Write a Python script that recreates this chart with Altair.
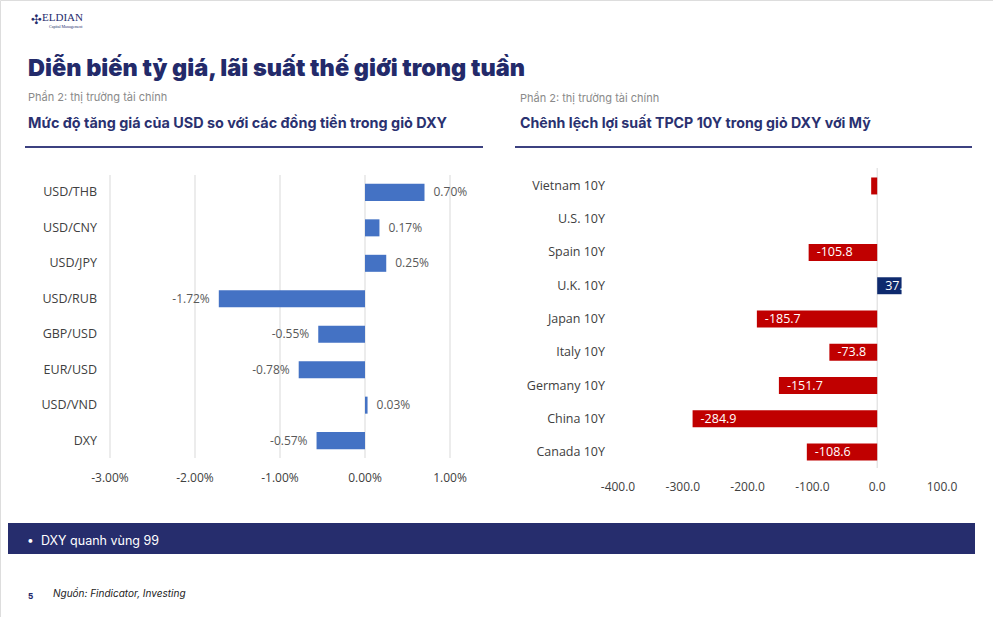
import altair as alt
import pandas as pd

# ---- data ----
fx_pairs = ["USD/THB", "USD/CNY", "USD/JPY", "USD/RUB", "GBP/USD", "EUR/USD", "USD/VND", "DXY"]
fx_change = [0.70, 0.17, 0.25, -1.72, -0.55, -0.78, 0.03, -0.57]
fx_ticks = [-3, -2, -1, 0, 1]
fx_tick_labels = ["-3.00%", "-2.00%", "-1.00%", "0.00%", "1.00%"]

bonds = ["Vietnam 10Y", "U.S. 10Y", "Spain 10Y", "U.K. 10Y", "Japan 10Y",
         "Italy 10Y", "Germany 10Y", "China 10Y", "Canada 10Y"]
bond_spread = [-9.3, 0.0, -105.8, 37.6, -185.7, -73.8, -151.7, -284.9, -108.6]
bond_ticks = [-400, -300, -200, -100, 0, 100]
bond_tick_labels = ["-400.0", "-300.0", "-200.0", "-100.0", "0.0", "100.0"]

fx_df = pd.DataFrame({"pair": fx_pairs, "v": fx_change})
fx_tick_df = pd.DataFrame({"t": fx_ticks, "lab": fx_tick_labels})
bond_df = pd.DataFrame({"bond": bonds, "v": bond_spread})
bond_tick_df = pd.DataFrame({"t": bond_ticks, "lab": bond_tick_labels})

NAVY = "#262D6D"
LABEL_FONT = "Open Sans"
HEAD_FONT = "Inter"
CAT_SIZE = 12.5
one = pd.DataFrame({"a": [0]})


def note(text, x, y, size, color, weight="normal", font=HEAD_FONT, style="normal",
         align="left"):
    return alt.Chart(one).mark_text(
        text=text, font=font, fontSize=size, fontWeight=weight, fontStyle=style,
        color=color, align=align, baseline="middle"
    ).encode(x=alt.value(x), y=alt.value(y))


def hline(x0, x1, y, color, width):
    return alt.Chart(one).mark_rule(color=color, strokeWidth=width).encode(
        x=alt.value(x0), x2=alt.value(x1), y=alt.value(y))


# plain hyphen instead of the typographic minus that format() emits
HYPHEN = "replace(format(datum.v, '{fmt}'), '\u2212', '-')"

# ---- left panel: USD change vs DXY basket ----
fx_x = alt.Scale(domain=[-3, 1], range=[110, 450], nice=False, zero=False)
fx_y = alt.Scale(domain=fx_pairs, range=[175, 458], paddingInner=0.52, paddingOuter=0.25)

fx_grid = alt.Chart(fx_tick_df).mark_rule(color="#D9D9D9", strokeWidth=1).encode(
    x=alt.X("t:Q", scale=fx_x, axis=None), y=alt.value(175), y2=alt.value(458))
fx_bars = alt.Chart(fx_df).mark_bar(color="#4472C4").encode(
    x=alt.X("v:Q", scale=fx_x, axis=None), x2=alt.datum(0),
    y=alt.Y("pair:N", scale=fx_y, axis=None, sort=fx_pairs))
fx_lab_base = alt.Chart(fx_df).transform_calculate(
    lab=HYPHEN.format(fmt=".2f") + " + '%'")
fx_lab_pos = fx_lab_base.transform_filter("datum.v >= 0").mark_text(
    align="left", dx=9, font=LABEL_FONT, fontSize=12, color="#595959").encode(
    x=alt.X("v:Q", scale=fx_x, axis=None),
    y=alt.Y("pair:N", scale=fx_y, axis=None, sort=fx_pairs), text="lab:N")
fx_lab_neg = fx_lab_base.transform_filter("datum.v < 0").mark_text(
    align="right", dx=-9, font=LABEL_FONT, fontSize=12, color="#595959").encode(
    x=alt.X("v:Q", scale=fx_x, axis=None),
    y=alt.Y("pair:N", scale=fx_y, axis=None, sort=fx_pairs), text="lab:N")
fx_cats = alt.Chart(fx_df).mark_text(
    align="right", font=LABEL_FONT, fontSize=CAT_SIZE, color="#404040").encode(
    x=alt.value(97), y=alt.Y("pair:N", scale=fx_y, axis=None, sort=fx_pairs),
    text="pair:N")
fx_tick_text = alt.Chart(fx_tick_df).mark_text(
    align="center", font=LABEL_FONT, fontSize=12, color="#404040").encode(
    x=alt.X("t:Q", scale=fx_x, axis=None), y=alt.value(478), text="lab:N")

left = alt.layer(fx_grid, fx_bars, fx_lab_pos, fx_lab_neg, fx_cats, fx_tick_text)

# ---- right panel: 10Y yield spread vs U.S. ----
bd_x = alt.Scale(domain=[-400, 100], range=[618, 942], nice=False, zero=False)
bd_y = alt.Scale(domain=bonds, range=[169, 469], paddingInner=0.49, paddingOuter=0.255)

bd_zero = alt.Chart(one).mark_rule(color="#D9D9D9", strokeWidth=1).encode(
    x=alt.X("a:Q", scale=bd_x, axis=None), y=alt.value(168), y2=alt.value(468))
bd_bars = alt.Chart(bond_df).mark_bar().encode(
    x=alt.X("v:Q", scale=bd_x, axis=None), x2=alt.datum(0),
    y=alt.Y("bond:N", scale=bd_y, axis=None, sort=bonds),
    color=alt.condition("datum.v > 0", alt.value("#0E2A6E"), alt.value("#C00000")))
bd_labels = alt.Chart(bond_df).transform_filter("datum.v != 0").transform_calculate(
    base="min(datum.v, 0)", lab=HYPHEN.format(fmt=".1f")).mark_text(
    align="left", dx=8, font=LABEL_FONT, fontSize=12.5, color="white").encode(
    x=alt.X("base:Q", scale=bd_x, axis=None),
    y=alt.Y("bond:N", scale=bd_y, axis=None, sort=bonds), text="lab:N")
bd_cats = alt.Chart(bond_df).mark_text(
    align="right", font=LABEL_FONT, fontSize=CAT_SIZE, color="#404040").encode(
    x=alt.value(605), y=alt.Y("bond:N", scale=bd_y, axis=None, sort=bonds),
    text="bond:N")
bd_tick_text = alt.Chart(bond_tick_df).mark_text(
    align="center", font=LABEL_FONT, fontSize=12, color="#404040").encode(
    x=alt.X("t:Q", scale=bd_x, axis=None), y=alt.value(487), text="lab:N")

right = alt.layer(bd_zero, bd_bars, bd_labels, bd_cats, bd_tick_text)

# ---- page furniture ----
banner = alt.Chart(one).mark_rect(color=NAVY).encode(
    x=alt.value(8), x2=alt.value(975), y=alt.value(523), y2=alt.value(554))

furniture = [
    note("✣", 31, 20, 13, NAVY, font="DejaVu Sans"),
    note("ELDIAN", 42, 18, 11, NAVY, font="Liberation Serif"),
    note("Capital Management", 49, 27, 4, NAVY, font="Liberation Serif"),
    note("Diễn biến tỷ giá, lãi suất thế giới trong tuần", 28, 69, 23.5, "#232A6A",
         weight=900),
    note("Phần 2: thị trường tài chính", 28, 98, 11, "#8A8A8A"),
    note("Phần 2: thị trường tài chính", 520, 99, 11, "#8A8A8A"),
    note("Mức độ tăng giá của USD so với các đồng tiền trong giỏ DXY", 28, 124, 14.4,
         "#2A3170", weight=700),
    note("Chênh lệch lợi suất TPCP 10Y trong giỏ DXY với Mỹ", 520, 124, 14.2,
         "#2A3170", weight=700),
    hline(25, 483, 147, "#3C4180", 2),
    hline(515, 972, 147, "#3C4180", 2),
    banner,
    note("•", 27, 540, 12, "white"),
    note("DXY quanh vùng 99", 41, 541, 12.5, "white"),
    note("5", 28, 597, 8, NAVY, weight=800),
    note("Nguồn: Findicator, Investing", 53, 594, 10, "#222222", style="italic"),
]

chart = alt.layer(*furniture, left, right).resolve_scale(
    x="independent", y="independent"
).properties(
    width=993, height=617, padding=0,
    autosize=alt.AutoSizeParams(type="none")
).configure_view(stroke=None).configure(background="white")

chart.save("out.html", embed_options={"renderer": "svg", "actions": False})
